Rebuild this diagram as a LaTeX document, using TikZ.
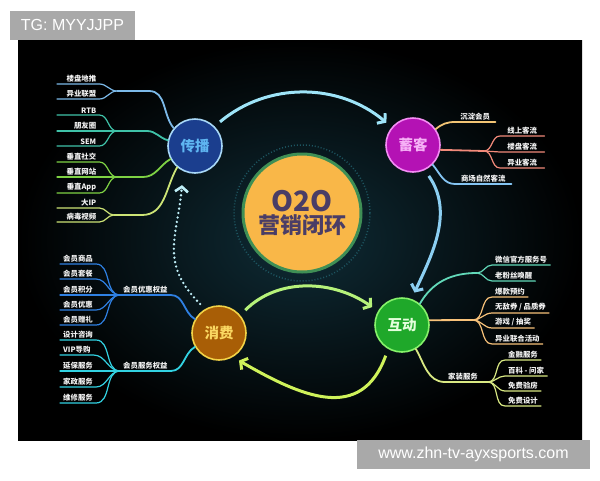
\documentclass[tikz,border=0pt]{standalone}
\usepackage{fontspec}
\usepackage{xcolor}
\usepackage{tikz}
\usetikzlibrary{arrows.meta}
\setmainfont{Noto Sans CJK SC}
\newfontfamily\wmfont{Liberation Sans}

\definecolor{bginner}{HTML}{0F2C36}
\definecolor{wmgray}{HTML}{A9A9A9}
\definecolor{coreorange}{HTML}{F9B748}
\definecolor{coregreen}{HTML}{3F8F55}
\definecolor{coretext}{HTML}{4A3D66}
\definecolor{ringteal}{HTML}{1D5560}
\definecolor{cbfill}{HTML}{1B3E8E}
\definecolor{cbedge}{HTML}{A8D8F8}
\definecolor{cbtext}{HTML}{5FB6F2}
\definecolor{xkfill}{HTML}{B412B4}
\definecolor{xkedge}{HTML}{F48CF4}
\definecolor{xktext}{HTML}{F6B0F6}
\definecolor{hdfill}{HTML}{1FA82A}
\definecolor{hdedge}{HTML}{86F26A}
\definecolor{hdtext}{HTML}{E4FFDC}
\definecolor{xffill}{HTML}{A85E06}
\definecolor{xfedge}{HTML}{F2D246}
\definecolor{xftext}{HTML}{FAD862}
% branch colours
\definecolor{cbA}{HTML}{7CB9E8}
\definecolor{cbB}{HTML}{3FC2A8}
\definecolor{cbC}{HTML}{7ED244}
\definecolor{cbD}{HTML}{CDE476}
\definecolor{xkA}{HTML}{F2C474}
\definecolor{xkB}{HTML}{F28A7A}
\definecolor{xkC}{HTML}{84C4F2}
\definecolor{hdA}{HTML}{62D9B9}
\definecolor{hdB}{HTML}{F8C27A}
\definecolor{hdC}{HTML}{D9E983}
\definecolor{xfA}{HTML}{2F80E2}
\definecolor{xfB}{HTML}{32D2E2}
% loop arrows
\definecolor{arrA}{HTML}{9EE4F8}
\definecolor{arrB}{HTML}{8CCFF2}
\definecolor{arrC}{HTML}{B6F27A}
\definecolor{arrD}{HTML}{CFF25A}
\definecolor{arrE}{HTML}{BFEFF8}

\begin{document}
\begin{tikzpicture}[x=1pt, y=1pt,
    hub/.style={circle, draw, line width=1.6pt, minimum size=54pt, inner sep=0pt, font=\bfseries\fontsize{14.5}{15}\selectfont},
    leaf/.style={anchor=south west, inner xsep=3pt, inner ysep=1.5pt, text=white!90!gray, font=\bfseries\fontsize{7.4}{8}\selectfont},
    lleaf/.style={leaf, text width=36pt, align=right},
    twig/.style={line width=1.2pt, line cap=round},
    trunk/.style={line width=1.8pt, line cap=round},
    cyc/.style={line width=3pt, shorten <=7pt, shorten >=7pt, -{Straight Barb[length=5pt, width=13pt]}},
    wm/.style={fill=wmgray, text=white, inner sep=0pt, minimum height=29pt, font=\wmfont\fontsize{16}{16}\selectfont}]

    % backdrop
    \useasboundingbox (0,0) rectangle (600,-480);
    \fill[white] (0,0) rectangle (600,-480);
    \shade[inner color=bginner, outer color=black] (18,-40) rectangle (582,-440);
    \node[wm, minimum width=125pt] (tg) at (72.5,-25) {TG: MYYJJPP};
    \node[wm, minimum width=233pt] (site) at (473.5,-454.5) {www.zhn-tv-ayxsports.com};

    % core
    \draw[ringteal, line width=1.5pt, dash pattern=on 1pt off 2pt] (302,-213) circle (68);
    \node[circle, fill=coreorange, draw=coregreen, line width=3pt, minimum size=118pt, inner sep=0pt, align=center, text=coretext, font=\bfseries] (core) at (302,-213)
        {{\fontsize{28}{30}\selectfont O2O}\\[2pt]{\fontsize{22}{24}\selectfont 营销闭环}};

    % hubs
    \node[hub, fill=cbfill, draw=cbedge, text=cbtext] (cb) at (195,-146) {传播};
    \node[hub, fill=xkfill, draw=xkedge, text=xktext] (xk) at (413,-145) {蓄客};
    \node[hub, fill=hdfill, draw=hdedge, text=hdtext] (hd) at (402,-325) {互动};
    \node[hub, fill=xffill, draw=xfedge, text=xftext] (xf) at (219,-333) {消费};

    % 传播
    \node[lleaf] (cb1) at (57,-84) {楼盘地推};
    \node[lleaf] (cb2) at (57,-99) {异业联盟};
    \node[lleaf] (cb3) at (57,-115) {RTB};
    \node[lleaf] (cb4) at (57,-131) {朋友圈};
    \node[lleaf] (cb5) at (57,-146) {SEM};
    \node[lleaf] (cb6) at (57,-162) {垂直社交};
    \node[lleaf] (cb7) at (57,-177) {垂直网站};
    \node[lleaf] (cb8) at (57,-193) {垂直App};
    \node[lleaf] (cb9) at (57,-208) {大IP};
    \node[lleaf] (cb10) at (57,-222) {病毒视频};
    \coordinate (cbm1) at (117,-91);
    \coordinate (cbm2) at (117,-131);
    \coordinate (cbm3) at (117,-177);
    \coordinate (cbm4) at (114,-215);

    \draw[twig, cbA] (cb1.south west) -- (cb1.south east) to[out=0, in=180] (cbm1) to[out=180, in=0] (cb2.south east) -- (cb2.south west);
    \draw[trunk, cbA] (cbm1) -- ++(32,0) to[out=0, in=130] (cb.140);
    \draw[twig, cbB] (cb3.south west) -- (cb3.south east) to[out=0, in=180] (cbm2) to[out=180, in=0] (cb5.south east) -- (cb5.south west);
    \draw[twig, cbB] (cb4.south west) -- (cbm2);
    \draw[trunk, cbB] (cbm2) -- ++(30,0) to[out=0, in=165] (cb.168);
    \draw[twig, cbC] (cb6.south west) -- (cb6.south east) to[out=0, in=180] (cbm3) to[out=180, in=0] (cb8.south east) -- (cb8.south west);
    \draw[twig, cbC] (cb7.south west) -- (cbm3);
    \draw[trunk, cbC] (cbm3) -- ++(26,0) to[out=0, in=-150] (cb.-152);
    \draw[twig, cbD] (cb9.south west) -- (cb9.south east) to[out=0, in=180] (cbm4) to[out=180, in=0] (cb10.south east) -- (cb10.south west);
    \draw[trunk, cbD] (cbm4) -- ++(28,0) to[out=0, in=-120] (cb.-130);

    % 蓄客
    \node[leaf, minimum width=40pt] (xk1) at (455,-122) {沉淀会员};
    \node[leaf, minimum width=44pt] (xk2) at (500,-136) {线上客流};
    \node[leaf, minimum width=44pt] (xk3) at (500,-152) {楼盘客流};
    \node[leaf, minimum width=44pt] (xk4) at (500,-168) {异业客流};
    \node[leaf, minimum width=56pt] (xk5) at (455,-184) {商场自然客流};
    \coordinate (xkm) at (484,-151);

    \draw[trunk, xkA] (xk.35) to[out=40, in=180] (xk1.south west) -- (xk1.south east);
    \draw[trunk, xkB] (xk.-10) -- (xkm);
    \draw[twig, xkB] (xk2.south east) -- (xk2.south west) to[out=180, in=0] (xkm) to[out=0, in=180] (xk4.south west) -- (xk4.south east);
    \draw[twig, xkB] (xkm) -- (xk3.south west) -- (xk3.south east);
    \draw[trunk, xkC] (xk.-45) to[out=-50, in=180] (xk5.south west) -- (xk5.south east);

    % 互动
    \node[leaf] (hd1) at (492,-265) {微信官方服务号};
    \node[leaf] (hd2) at (492,-281) {老粉丝唤醒};
    \node[leaf] (hd3) at (492,-297) {爆款预约};
    \node[leaf] (hd4) at (492,-313) {无敌券 / 品质券};
    \node[leaf] (hd5) at (492,-328) {游戏 / 抽奖};
    \node[leaf] (hd6) at (492,-344) {异业联合活动};
    \node[leaf] (hd7) at (445,-382) {家装服务};
    \node[leaf] (hd8) at (505,-360) {金融服务};
    \node[leaf] (hd9) at (505,-376) {百科 - 问家};
    \node[leaf] (hd10) at (505,-391) {免费验房};
    \node[leaf] (hd11) at (505,-406) {免费设计};
    \coordinate (hdm1) at (477,-273);
    \coordinate (hdm2) at (473,-320);
    \coordinate (hdm3) at (488,-382);

    \draw[trunk, hdA] (hd.50) to[out=60, in=180] (hdm1);
    \draw[twig, hdA] (hd1.south east) -- (hd1.south west) to[out=180, in=0] (hdm1) to[out=0, in=180] (hd2.south west) -- (hd2.south east);
    \draw[trunk, hdB] (hd.10) to[out=0, in=180] (hdm2);
    \draw[twig, hdB] (hd3.south east) -- (hd3.south west) to[out=180, in=0] (hdm2) to[out=0, in=180] (hd6.south west) -- (hd6.south east);
    \draw[twig, hdB] (hd4.south east) -- (hd4.south west) to[out=180, in=0] (hdm2) to[out=0, in=180] (hd5.south west) -- (hd5.south east);
    \draw[trunk, hdC] (hd.-60) to[out=-60, in=180] (hd7.south west) -- (hdm3);
    \draw[twig, hdC] (hd8.south east) -- (hd8.south west) to[out=180, in=0] (hdm3) to[out=0, in=180] (hd11.south west) -- (hd11.south east);
    \draw[twig, hdC] (hd9.south east) -- (hd9.south west) to[out=180, in=0] (hdm3) to[out=0, in=180] (hd10.south west) -- (hd10.south east);

    % 消费
    \node[leaf] (xf0) at (120,-295) {会员优惠权益};
    \node[leaf] (xf1) at (60,-264) {会员商品};
    \node[leaf] (xf2) at (60,-279) {会员套餐};
    \node[leaf] (xf3) at (60,-295) {会员积分};
    \node[leaf] (xf4) at (60,-310) {会员优惠};
    \node[leaf] (xf5) at (60,-325) {会员赠礼};
    \node[leaf] (xf6) at (120,-371) {会员服务权益};
    \node[leaf] (xf7) at (60,-340) {设计咨询};
    \node[leaf] (xf8) at (60,-355) {VIP导购};
    \node[leaf] (xf9) at (60,-371) {延保服务};
    \node[leaf] (xf10) at (60,-387) {家政服务};
    \node[leaf] (xf11) at (60,-403) {维修服务};

    \draw[trunk, xfA] (xf.150) to[out=150, in=0] (xf0.south east) -- (xf0.south west);
    \draw[twig, xfA] (xf1.south west) -- (xf1.south east) to[out=0, in=180] (xf0.south west) to[out=180, in=0] (xf5.south east) -- (xf5.south west);
    \draw[twig, xfA] (xf2.south west) -- (xf2.south east) to[out=0, in=180] (xf0.south west) to[out=180, in=0] (xf4.south east) -- (xf4.south west);
    \draw[twig, xfA] (xf3.south west) -- (xf0.south west);
    \draw[trunk, xfB] (xf.-150) to[out=-150, in=0] (xf6.south east) -- (xf6.south west);
    \draw[twig, xfB] (xf7.south west) -- (xf7.south east) to[out=0, in=180] (xf6.south west) to[out=180, in=0] (xf11.south east) -- (xf11.south west);
    \draw[twig, xfB] (xf8.south west) -- (xf8.south east) to[out=0, in=180] (xf6.south west) to[out=180, in=0] (xf10.south east) -- (xf10.south west);
    \draw[twig, xfB] (xf9.south west) -- (xf6.south west);

    % closed loop
    \draw[cyc, arrA] (cb.45) to[out=40, in=140] (xk.140);
    \draw[cyc, arrB] (xk.-65) to[out=-55, in=65] (hd.70);
    \draw[cyc, arrC] (xf.40) to[out=45, in=145] (hd.150);
    \draw[cyc, arrD] (hd.-120) to[out=-110, in=-30, looseness=1.3] (xf.-60);
    \draw[cyc, arrE, line width=2.6pt, shorten >=14pt, dash pattern=on 0pt off 4.5pt, line cap=round] (xf.120) to[out=135, in=-95, looseness=1.2] (cb.-115);
\end{tikzpicture}
\end{document}
